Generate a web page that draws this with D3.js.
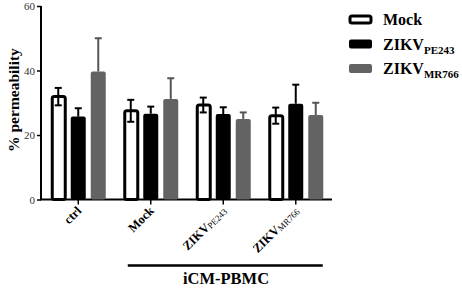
<!DOCTYPE html>
<html>
<head>
<meta charset="utf-8">
<script src="https://cdn.jsdelivr.net/npm/d3@7"></script>
<style>
    body { margin: 0; background: #fff; }
    svg text { font-family: "Times New Roman", Times, "Liberation Serif", "DejaVu Serif", serif !important; }
</style>
</head>
<body>
<svg width="462" height="288"></svg>
<script>
var groups = ["ctrl", "Mock", "ZIKV|PE243", "ZIKV|MR766"];
var series = ["Mock", "ZIKV|PE243", "ZIKV|MR766"];
var means = [
    [31.9, 25.7, 39.7],
    [27.5, 26.6, 31.2],
    [29.3, 26.5, 25.0],
    [26.0, 29.7, 26.2]
];
var errors = [
    [2.7, 2.6, 10.3],
    [3.4, 2.2, 6.4],
    [2.3, 2.1, 2.0],
    [2.5, 5.9, 3.8]
];
var yTicks = [0, 20, 40, 60];
var colors = ["#fff", "#000", "#636363"];
var errColors = ["#000", "#000", "#555"];

var svg = d3.select("svg");

var x = d3.scaleBand()
    .domain(groups)
    .range([42, 332]);

var xInner = d3.scaleBand()
    .domain(series)
    .range([-27.5, 27.5])
    .paddingInner(0.25);

var y = d3.scaleLinear()
    .domain([0, 60])
    .range([199.5, 6]);

// AXES
var yAxis = d3.axisLeft(y)
    .tickValues(yTicks)
    .tickSize(4)
    .tickPadding(2);
var gy = svg.append("g")
    .attr("transform", "translate(41,0)")
    .call(yAxis);
gy.select(".domain").attr("stroke-width", 2).attr("d", "M0," + y(0) + "V" + y(60));
gy.selectAll(".tick line").attr("stroke-width", 1.5);
gy.selectAll(".tick text")
    .attr("font-size", 11)
    .attr("fill", "#333");

var gx = svg.append("g").attr("transform", "translate(0," + y(0) + ")");
gx.append("line")
    .attr("x1", 40).attr("x2", 332)
    .attr("stroke", "#000").attr("stroke-width", 2);
gx.selectAll(".xtick")
    .data(groups)
    .enter()
    .append("line")
    .attr("x1", function(d) { return x(d) + x.bandwidth() / 2; })
    .attr("x2", function(d) { return x(d) + x.bandwidth() / 2; })
    .attr("y1", 0).attr("y2", 5)
    .attr("stroke", "#000").attr("stroke-width", 1.5);

// x labels
gx.selectAll(".xlabel")
    .data(groups)
    .enter()
    .append("text")
    .attr("text-anchor", "end")
    .attr("font-weight", "bold")
    .attr("font-size", 12.5)
    .attr("transform", function(d) {
        return "translate(" + (x(d) + x.bandwidth() / 2 + 4) + ",12) rotate(-45)";
    })
    .each(function(d) {
        var parts = d.split("|");
        var t = d3.select(this);
        t.append("tspan").text(parts[0]);
        if (parts[1]) {
            t.append("tspan").attr("font-size", 9).attr("font-weight", "normal").attr("dy", 1).text(parts[1]);
        }
    });

// BARS
var bars = svg.append("g").selectAll("g")
    .data(groups)
    .enter()
    .append("g")
    .attr("transform", function(d) { return "translate(" + (x(d) + x.bandwidth() / 2) + ",0)"; });

bars.selectAll("rect")
    .data(function(d, i) { return series.map(function(s, j) { return {s: s, j: j, v: means[i][j], e: errors[i][j]}; }); })
    .enter()
    .append("rect")
    .attr("x", function(d) { return xInner(d.s) + (d.j === 0 ? 1.5 : 0); })
    .attr("width", function(d) { return xInner.bandwidth() - (d.j === 0 ? 2 : 0); })
    .attr("y", function(d) { return y(d.v); })
    .attr("height", function(d) { return y(0) - y(d.v); })
    .attr("rx", 2)
    .attr("fill", function(d) { return colors[d.j]; })
    .attr("stroke", function(d) { return d.j === 0 ? "#000" : "none"; })
    .attr("stroke-width", 3);

// ERROR BARS
var err = bars.selectAll(".err")
    .data(function(d, i) { return series.map(function(s, j) { return {s: s, j: j, v: means[i][j], e: errors[i][j]}; }); })
    .enter()
    .append("g")
    .attr("stroke", function(d) { return errColors[d.j]; })
    .attr("stroke-width", 2);
err.append("line")
    .attr("x1", function(d) { return xInner(d.s) + xInner.bandwidth() / 2; })
    .attr("x2", function(d) { return xInner(d.s) + xInner.bandwidth() / 2; })
    .attr("y1", function(d) { return y(d.v - (d.j === 0 ? d.e : 0)); })
    .attr("y2", function(d) { return y(d.v + d.e); });
err.append("line")
    .attr("x1", function(d) { return xInner(d.s) + xInner.bandwidth() / 2 - 3.5; })
    .attr("x2", function(d) { return xInner(d.s) + xInner.bandwidth() / 2 + 3.5; })
    .attr("y1", function(d) { return y(d.v + d.e); })
    .attr("y2", function(d) { return y(d.v + d.e); });
err.filter(function(d) { return d.j === 0; })
    .append("line")
    .attr("x1", function(d) { return xInner(d.s) + xInner.bandwidth() / 2 - 3.5; })
    .attr("x2", function(d) { return xInner(d.s) + xInner.bandwidth() / 2 + 3.5; })
    .attr("y1", function(d) { return y(d.v - d.e); })
    .attr("y2", function(d) { return y(d.v - d.e); });

// Y LABEL
svg.append("text")
    .attr("transform", "translate(19,100) rotate(-90)")
    .attr("text-anchor", "middle")
    .attr("font-weight", "bold")
    .attr("font-size", 15.5)
    .text("% permeability");

// BRACKET
svg.append("line")
    .attr("x1", x("Mock") + x.bandwidth() / 2 - 23)
    .attr("x2", x("ZIKV|MR766") + x.bandwidth() / 2 + 27)
    .attr("y1", 265.5).attr("y2", 265.5)
    .attr("stroke", "#000").attr("stroke-width", 2.5);
svg.append("text")
    .attr("x", 226)
    .attr("y", 284)
    .attr("text-anchor", "middle")
    .attr("font-weight", "bold")
    .attr("font-size", 16.5)
    .text("iCM-PBMC");

// LEGEND
var legend = svg.append("g").selectAll("g")
    .data(series)
    .enter()
    .append("g")
    .attr("transform", function(d, i) { return "translate(349," + (15 + i * 24.5) + ")"; });
legend.append("rect")
    .attr("x", function(d, i) { return i === 0 ? 1 : 0; })
    .attr("y", function(d, i) { return i === 0 ? 1 : 0; })
    .attr("width", function(d, i) { return i === 0 ? 21 : 23; })
    .attr("height", function(d, i) { return i === 0 ? 7 : 9; })
    .attr("rx", 2)
    .attr("fill", function(d, i) { return colors[i]; })
    .attr("stroke", function(d, i) { return i === 0 ? "#000" : "none"; })
    .attr("stroke-width", 3);
legend.append("text")
    .attr("x", 34)
    .attr("y", 10)
    .attr("font-weight", "bold")
    .attr("font-size", 16)
    .each(function(d) {
        var parts = d.split("|");
        var t = d3.select(this);
        t.append("tspan").text(parts[0]);
        if (parts[1]) {
            t.append("tspan").attr("font-size", 11).attr("dy", 4).text(parts[1]);
        }
    });
</script>
</body>
</html>
